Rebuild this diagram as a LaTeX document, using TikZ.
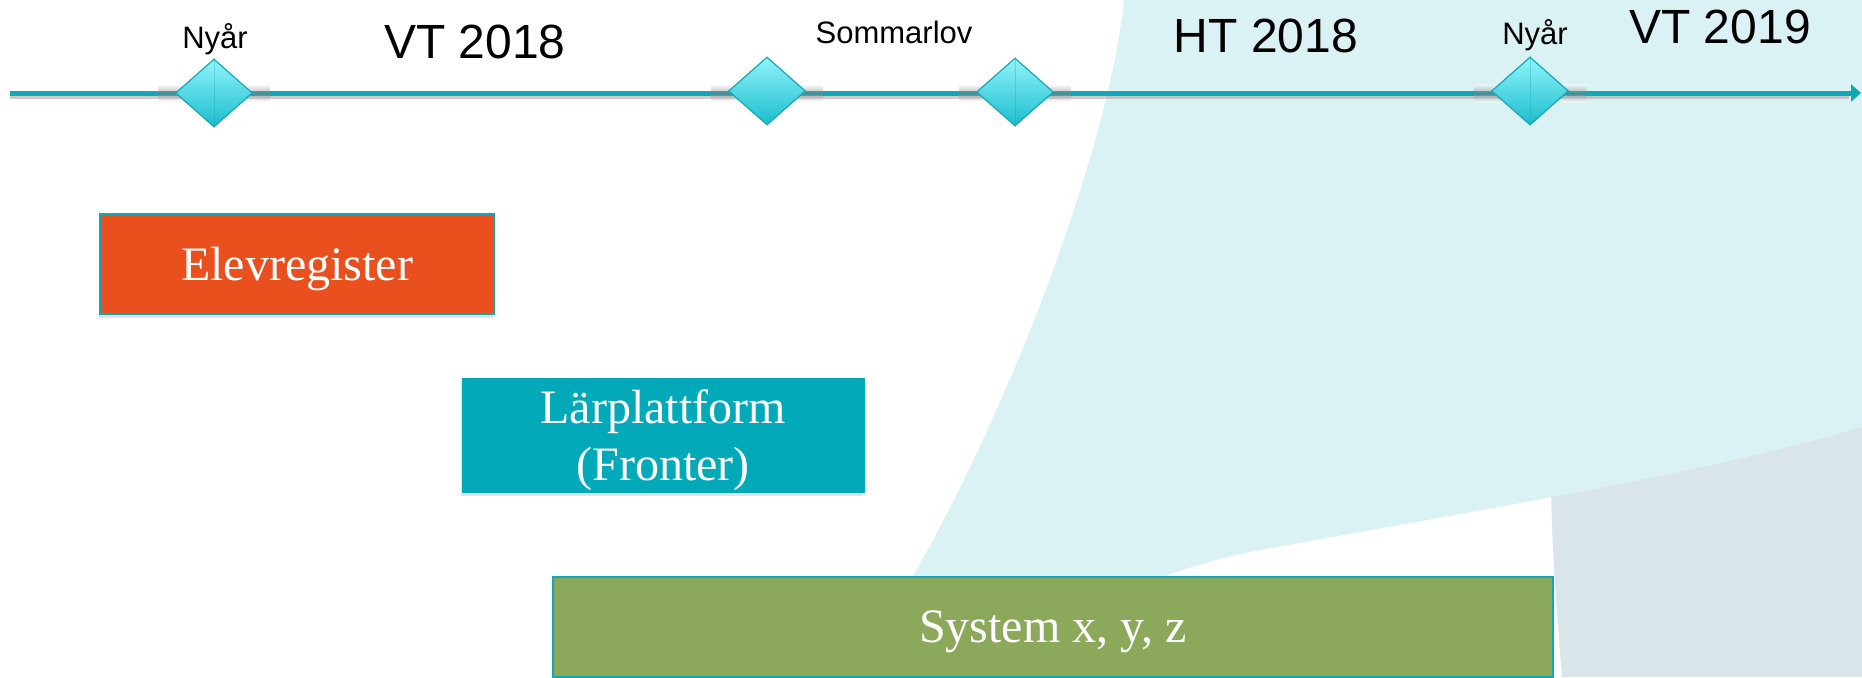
\documentclass[tikz,border=0pt]{standalone}
\usepackage{fontspec}
\setmainfont{Liberation Serif}
\newfontfamily\labelfont{Liberation Sans}
\usetikzlibrary{shapes.geometric,arrows.meta,shadows}
\definecolor{tealline}{HTML}{10A8B7}
\definecolor{bgcyan}{HTML}{DAF2F4}
\definecolor{bggray}{HTML}{D9E5E8}
\definecolor{dtop}{HTML}{90F4FB}
\definecolor{dbot}{HTML}{1BBDCD}
\definecolor{dborder}{HTML}{17A7B5}
\definecolor{boxorange}{HTML}{E9501D}
\definecolor{boxteal}{HTML}{02A9B9}
\definecolor{boxgreen}{HTML}{8CA85B}
\begin{document}
\begin{tikzpicture}[x=0.5pt,y=-0.5pt,
  milestone/.style={diamond, draw=dborder, line width=0.6pt, top color=dtop, bottom color=dbot,
    minimum width=38.5pt, minimum height=34pt, inner sep=0pt},
  smalllabel/.style={font=\labelfont\fontsize{15.5}{18}\selectfont, anchor=base, inner sep=0pt},
  termlabel/.style={font=\labelfont\fontsize{24}{28}\selectfont, anchor=base, inner sep=0pt},
  phase/.style={font=\fontsize{24}{28.5}\selectfont, text=white, align=center, inner sep=0pt,
    text depth=0pt,
    drop shadow={shadow xshift=-0.5pt, shadow yshift=-2pt, opacity=0.22}},
  glow/.style={top color=white, bottom color=white, middle color=black!55, opacity=0.45}
]
\useasboundingbox (0,0) rectangle (1862,677);
\fill[white] (0,0) rectangle (1862,677);
% background shapes
\fill[bggray] (1550,400) -- (1862,380) -- (1862,677) -- (1562,677)
  .. controls (1556,600) and (1550,540) .. (1550,400) -- cycle;
\fill[bgcyan] (1124,0) -- (1862,0) -- (1862,427)
  .. controls (1700,475) and (1450,515) .. (1250,552)
  .. controls (1150,572) and (1000,640) .. (950,677) -- (850,677)
  .. controls (990,477) and (1110,150) .. (1124,0) -- cycle;
% timeline
\coordinate (tlstart) at (10,93);
\coordinate (tlend) at (1861,93);
\draw[black!40, opacity=0.5, line width=2pt] ([yshift=-1.8pt]tlstart) -- ([yshift=-1.8pt,xshift=-6pt]tlend);
\draw[tealline, line width=2.5pt, -{Triangle[length=5pt,width=8.5pt]}] (tlstart) -- (tlend);
\foreach \x in {214,767,1015,1530} \shade[glow] (\x-56,84) rectangle (\x+56,102);
% milestones
\node[milestone] (m1) at (214,93) {};
\node[milestone] (m2) at (767,91) {};
\node[milestone] (m3) at (1015,92) {};
\node[milestone] (m4) at (1530,91) {};
\foreach \m in {m1,m3,m4} \draw[dborder, opacity=0.35, line width=0.4pt] (\m.north) -- (\m.south);
% labels
\node[smalllabel] (l1) at (215,48) {Nyår};
\node[termlabel] (t1) at (475,58) {VT 2018};
\node[smalllabel] (l2) at (894,43) {Sommarlov};
\node[termlabel] (t2) at (1266,52) {HT 2018};
\node[smalllabel] (l3) at (1535,44) {Nyår};
\node[termlabel] (t3) at (1720,43) {VT 2019};
% phases
\node[phase, fill=boxorange, draw=tealline, line width=0.8pt, minimum width=197pt, minimum height=50pt] (elev) at (297,264) {Elevregister};
\node[phase, fill=boxteal, draw=boxteal, minimum width=201pt, minimum height=57pt] (lar) at (663,435) {Lärplattform\\(Fronter)};
\node[phase, fill=boxgreen, draw=tealline, line width=1pt, minimum width=500pt, minimum height=50pt] (sys) at (1053,627) {System x, y, z};
\end{tikzpicture}
\end{document}
